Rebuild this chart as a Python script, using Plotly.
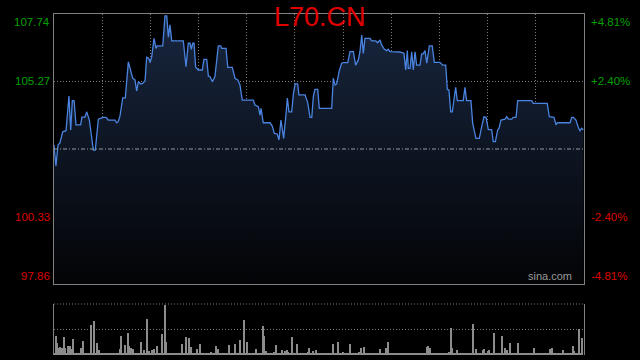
import plotly.graph_objects as go

# ---- data ----
minutes = [0, 1.2, 2.5, 3.7, 5.4, 7.5, 9.3, 10.4, 11.4, 12.5, 13.7, 16.6, 17.4, 19.3, 20.4, 22.0, 24.5, 25.7,
           27.6, 30.7, 32.4, 33.8, 38.0, 39.0, 40.0, 41.1, 42.8, 44.4, 46.3, 49.0, 50.4, 51.5, 52.5, 54.0,
           55.2, 56.7, 57.7, 59.0, 59.8, 60.8, 62.3, 63.5, 64.3, 67.7, 69.1, 70.2, 71.2, 72.2, 73.3, 80.5,
           82.2, 83.6, 84.7, 85.5, 86.4, 87.2, 88.2, 89.8, 92.3, 93.4, 95.1, 96.1, 97.1, 98.6, 100.2, 102.3,
           103.8, 104.4, 107.1, 108.2, 111.0, 112.7, 114.4, 115.8, 117.2, 124.1, 125.1, 127.2, 128.3, 128.9,
           130.3, 134.5, 135.9, 137.2, 139.0, 140.1, 141.3, 143.0, 144.3, 145.3, 146.3, 148.0, 149.0, 150.1,
           151.7, 152.5, 156.3, 158.0, 159.4, 160.5, 161.5, 162.5, 164.2, 165.2, 172.9, 173.9, 175.0, 176.0,
           177.5, 179.1, 180.1, 182.9, 184.3, 186.4, 187.8, 189.5, 190.5, 191.6, 192.6, 193.6, 196.8, 197.8,
           200.3, 201.5, 203.0, 204.0, 205.7, 207.2, 208.1, 209.2, 215.4, 217.9, 219.0, 220.0, 220.6, 221.7,
           222.7, 223.7, 224.8, 225.8, 227.9, 228.9, 229.9, 231.0, 232.1, 233.7, 235.5, 236.8, 240.3, 242.0,
           243.9, 244.9, 245.9, 247.0, 248.0, 250.1, 251.1, 254.8, 255.9, 256.9, 259.6, 260.7, 262.7, 264.8,
           266.3, 267.7, 269.0, 270.4, 272.5, 273.5, 274.8, 276.3, 277.1, 278.3, 280.8, 281.9, 282.9, 285.0,
           286.0, 287.7, 288.7, 297.4, 298.4, 307.1, 308.4, 311.3, 312.6, 313.4, 321.3, 322.4, 323.4, 325.0,
           326.5, 327.5, 328.6, 329.6]
prices = [102.95, 102.18, 102.95, 103.02, 103.43, 103.47, 104.74, 103.50, 104.57, 104.57, 103.68, 103.68,
          103.97, 103.97, 104.16, 103.86, 102.76, 102.76, 103.89, 103.96, 103.96, 103.86, 103.86, 103.76,
          103.80, 104.01, 104.67, 104.67, 105.99, 105.39, 105.33, 104.93, 105.26, 105.18, 105.20, 105.30,
          106.16, 106.12, 105.96, 106.16, 106.85, 106.48, 106.57, 106.57, 107.67, 107.67, 106.89, 107.34,
          106.76, 106.76, 105.81, 106.67, 106.67, 106.45, 106.67, 106.67, 105.79, 105.69, 105.69, 106.08,
          106.08, 105.47, 105.45, 105.26, 105.45, 106.57, 106.57, 106.48, 106.48, 105.79, 105.79, 105.39,
          105.33, 105.14, 104.59, 104.59, 104.41, 104.35, 104.04, 104.29, 103.76, 103.76, 103.64, 103.37,
          103.35, 103.13, 103.86, 103.19, 103.98, 104.66, 104.16, 104.16, 104.78, 105.18, 105.18, 104.78,
          104.78, 104.49, 103.96, 103.96, 104.74, 104.98, 104.98, 104.29, 104.29, 105.39, 105.14, 105.18,
          105.63, 105.94, 105.96, 105.96, 106.36, 106.36, 105.87, 106.06, 106.36, 106.97, 106.30, 106.85,
          106.85, 106.76, 106.76, 106.69, 106.79, 106.61, 106.45, 106.40, 106.45, 106.36, 106.35, 106.30,
          105.69, 106.40, 105.75, 105.75, 106.36, 105.69, 106.36, 105.87, 105.87, 106.28, 106.28, 106.40,
          105.94, 106.57, 106.57, 105.97, 105.97, 105.87, 105.87, 104.98, 104.96, 104.16, 104.16, 105.06,
          104.57, 104.57, 105.06, 104.57, 104.57, 103.74, 103.19, 103.19, 103.62, 103.98, 103.96, 103.52,
          103.50, 103.07, 103.07, 103.50, 103.56, 103.86, 103.89, 103.98, 103.89, 103.89, 103.96, 103.96,
          104.57, 104.57, 104.47, 104.47, 103.98, 103.96, 103.68, 103.76, 103.76, 103.96, 103.96, 103.86,
          103.59, 103.47, 103.56, 103.50]

volume = [150, 1900, 1170, 670, 770, 670, 1770, 670, 150, 900,
          900, 600, 1570, 150, 170, 150, 150, 670, 1400, 150,
          170, 150, 150, 3000, 150, 3400, 150, 1170, 500, 150,
          150, 150, 150, 150, 230, 150, 150, 150, 150, 150,
          150, 570, 1900, 150, 1000, 150, 2170, 900, 670, 570,
          150, 150, 230, 150, 1330, 150, 500, 150, 3570, 430,
          150, 500, 630, 150, 900, 150, 150, 2100, 150, 5000,
          1330, 150, 170, 150, 150, 150, 150, 150, 150, 150,
          1100, 150, 1770, 150, 1670, 770, 150, 150, 150, 570,
          150, 1100, 150, 150, 150, 150, 150, 150, 330, 150,
          150, 900, 570, 150, 150, 150, 150, 150, 150, 1000,
          150, 150, 150, 1100, 150, 150, 1500, 150, 3500, 150,
          1270, 150, 230, 150, 150, 150, 630, 150, 150, 150,
          2900, 1900, 430, 150, 150, 150, 150, 300, 1000, 150,
          150, 150, 500, 230, 430, 500, 330, 150, 1770, 150,
          150, 1100, 150, 150, 150, 150, 150, 150, 330, 670,
          150, 430, 150, 500, 150, 150, 150, 150, 150, 150,
          150, 150, 150, 150, 1100, 150, 150, 1300, 150, 150,
          300, 150, 150, 170, 1100, 150, 150, 150, 150, 150,
          300, 670, 150, 770, 150, 230, 150, 150, 150, 150,
          150, 150, 150, 630, 150, 150, 150, 670, 1270, 150,
          150, 150, 150, 150, 150, 170, 150, 150, 150, 170,
          150, 150, 150, 150, 150, 150, 150, 150, 150, 150,
          150, 150, 830, 900, 670, 150, 150, 150, 150, 150,
          150, 150, 170, 150, 150, 150, 330, 2670, 670, 150,
          150, 500, 150, 150, 150, 150, 170, 230, 150, 150,
          150, 3100, 150, 570, 170, 150, 150, 500, 630, 150,
          430, 500, 150, 150, 2170, 150, 230, 150, 150, 1900,
          150, 670, 500, 150, 1170, 150, 150, 150, 150, 1170,
          170, 150, 150, 150, 170, 150, 150, 150, 150, 670,
          150, 150, 150, 150, 170, 150, 150, 150, 150, 570,
          670, 150, 150, 150, 150, 150, 150, 500, 170, 150,
          150, 150, 150, 900, 430, 150, 150, 2570, 150, 1670]
vol_minutes = list(range(len(volume)))

prev_close = 102.80
price_ticks = [107.74, 105.27, 100.33, 97.86]
pct_labels = ["+4.81%", "+2.40%", "-2.40%", "-4.81%"]
grid_minutes = [30, 60, 90, 120, 150, 180, 210, 240, 270, 300]
title_text = "L70.CN"

# ---- figure ----
GREEN = "#00a000"
RED = "#dd0000"
GRID = "#7a7a7a"
BORDER = "#808080"
FONT = "Liberation Sans, Arial, sans-serif"

fig = go.Figure()
fig.add_trace(go.Scatter(
    x=minutes, y=prices, mode="lines",
    line=dict(color="#4a84e0", width=1.3),
    fill="tozeroy",
    fillgradient=dict(type="vertical", start=97.86, stop=107.74,
                      colorscale=[[0, "#030406"], [1, "#18263f"]]),
    xaxis="x", yaxis="y", hoverinfo="skip"))
fig.add_trace(go.Bar(
    x=vol_minutes, y=volume, width=0.62,
    marker=dict(color="#8c8c8c", line=dict(width=0)),
    xaxis="x2", yaxis="y2", hoverinfo="skip"))

xdom = [54 / 640, 584 / 640]
fig.update_layout(
    width=640, height=360,
    margin=dict(l=0, r=0, t=0, b=0),
    paper_bgcolor="black", plot_bgcolor="black",
    showlegend=False,
    bargap=0,
    xaxis=dict(domain=xdom, range=[0, 330], tickvals=grid_minutes,
               showticklabels=False, ticks="", showgrid=True, gridcolor=GRID,
               griddash="1px,2px", gridwidth=1, zeroline=False,
               showline=True, mirror=True, linecolor=BORDER, linewidth=1,
               anchor="y"),
    yaxis=dict(domain=[(360 - 284) / 360, (360 - 14) / 360], range=[97.86, 107.74],
               tickvals=[105.27, 100.33], showticklabels=False, ticks="",
               showgrid=True, gridcolor=GRID, griddash="1px,2px", gridwidth=1,
               zeroline=False, showline=True, mirror=True, linecolor=BORDER,
               linewidth=1, anchor="x"),
    xaxis2=dict(domain=xdom, range=[0, 330], showticklabels=False, ticks="",
                showgrid=False, zeroline=False, showline=False, anchor="y2"),
    yaxis2=dict(domain=[(360 - 355) / 360, (360 - 304) / 360], range=[0, 5100],
                tickvals=[2550], showticklabels=False, ticks="", showgrid=True,
                gridcolor=GRID, griddash="1px,2px", gridwidth=1, zeroline=False,
                showline=True, mirror=True, linecolor=BORDER, linewidth=1,
                anchor="x2"),
)

# previous close reference line
fig.add_shape(type="line", xref="x domain", yref="y", x0=0, x1=1,
              y0=prev_close, y1=prev_close,
              line=dict(color="#9a9a9a", width=1, dash="4px,2px,1px,2px"))
# volume panel top dotted border
fig.add_shape(type="line", xref="x2 domain", yref="y2 domain", x0=0, x1=1, y0=1, y1=1,
              line=dict(color=GRID, width=1, dash="1px,2px"))

anchors = ["top", "middle", "middle", "bottom"]
for i, (p, lab) in enumerate(zip(price_ticks, pct_labels)):
    col = GREEN if p > prev_close else RED
    fig.add_annotation(x=52 / 640, xref="paper", y=p, yref="y", text=f"{p:.2f}",
                       showarrow=False, xanchor="right", yanchor=anchors[i],
                       font=dict(family=FONT, size=11.5, color=col))
    fig.add_annotation(x=588.5 / 640, xref="paper", y=p, yref="y", text=lab,
                       showarrow=False, xanchor="left", yanchor=anchors[i],
                       font=dict(family=FONT, size=11.5, color=col))

fig.add_annotation(x=0.5, xref="paper", y=1 - 17 / 360, yref="paper", text=title_text,
                   showarrow=False, xanchor="center", yanchor="middle",
                   font=dict(family=FONT, size=27, color="#e00000"))
fig.add_annotation(x=574 / 640, xref="paper", y=0, yref="y domain", text="sina.com",
                   showarrow=False, xanchor="right", yanchor="bottom",
                   font=dict(family=FONT, size=11, color="#9a9a9a"))

fig.write_html("out.html")
